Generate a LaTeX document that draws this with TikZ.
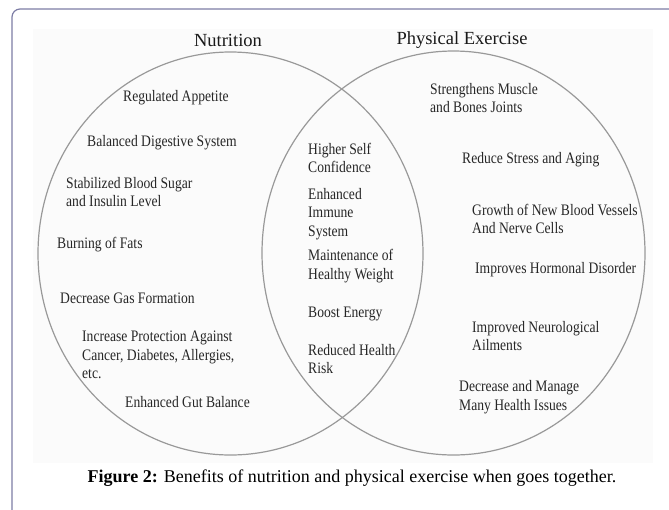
\documentclass[tikz,border=0pt]{standalone}
\usepackage{fontspec}
\setmainfont{Liberation Serif}
\newfontfamily\narrowserif[FakeStretch=0.85]{Liberation Serif}
\usetikzlibrary{positioning}
\definecolor{framecol}{RGB}{125,125,165}
\tikzstyle{benefit} = [
    anchor=west,
    align=left,
    inner sep=0pt,
    text=black!85,
    font=\narrowserif\fontsize{16}{18.5}\selectfont
]
\tikzstyle{title} = [
    inner sep=0pt,
    text=black!90,
    font=\fontsize{18.5}{22}\selectfont
]
\tikzstyle{captiontext} = [
    inner sep=0pt,
    font=\fontsize{18}{21}\selectfont
]
\tikzstyle{circ} = [
    draw=black!40,
    line width=1.2pt
]

\begin{document}
\begin{tikzpicture}[x=1pt, y=-1pt]
        \useasboundingbox (0,0) rectangle (669,509);
        \draw[framecol, line width=1.2pt, rounded corners=8pt] (680,9) -- (12,9) -- (12,520);
        \fill[black!1.5] (33,29) rectangle (653,463);
        \draw[circ] (230.5,253.5) ellipse [x radius=192.5, y radius=201.5];
        \draw[circ] (453.5,253) ellipse [x radius=191.5, y radius=202];

        \node (nutrition) [title] at (228,40) {Nutrition};
        \node (exercise) [title] at (462,40) {Physical Exercise};

        \node (appetite) [benefit] at (123,98) {Regulated Appetite};
        \node (digestive) [benefit] at (87,143) {Balanced Digestive System};
        \node (sugar) [benefit] at (66,192) {Stabilized Blood Sugar\\and Insulin Level};
        \node (fats) [benefit] at (57,245) {Burning of Fats};
        \node (gas) [benefit] at (60,298) {Decrease Gas Formation};
        \node (protection) [benefit] at (82,355) {Increase Protection Against\\Cancer, Diabetes, Allergies,\\etc.};
        \node (gut) [benefit] at (125,402) {Enhanced Gut Balance};

        \node (confidence) [benefit] at (308,158) {Higher Self\\Confidence};
        \node (immune) [benefit] at (308,214) {Enhanced\\Immune\\System};
        \node (weight) [benefit] at (308,266) {Maintenance of\\Healthy Weight};
        \node (energy) [benefit] at (308,314) {Boost Energy};
        \node (risk) [benefit] at (308,359) {Reduced Health\\Risk};

        \node (muscle) [benefit] at (430,98) {Strengthens Muscle\\and Bones Joints};
        \node (stress) [benefit] at (462,160) {Reduce Stress and Aging};
        \node (vessels) [benefit] at (472,219) {Growth of New Blood Vessels\\And Nerve Cells};
        \node (hormonal) [benefit] at (475,270) {Improves Hormonal Disorder};
        \node (neuro) [benefit] at (472,336) {Improved Neurological\\Ailments};
        \node (issues) [benefit] at (459,397) {Decrease and Manage\\Many Health Issues};

        \node (caption) [captiontext] at (352,478) {\textbf{Figure 2:} Benefits of nutrition and physical exercise when goes together.};
    \end{tikzpicture}
\end{document}
